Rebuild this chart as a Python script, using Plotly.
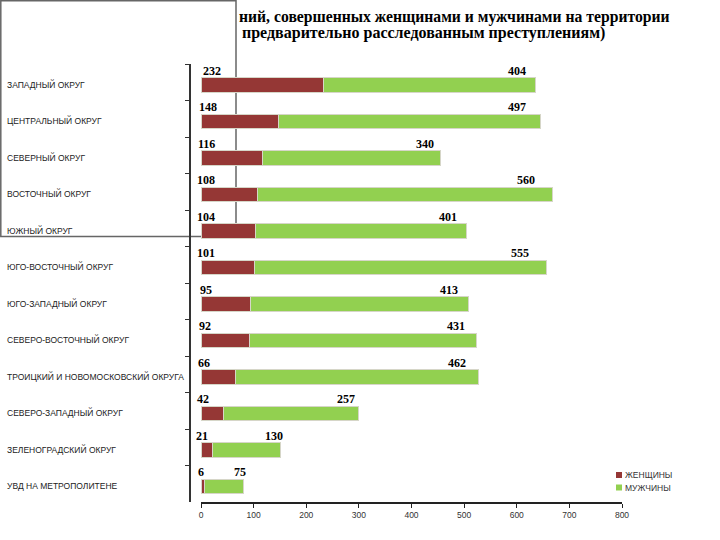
import plotly.graph_objects as go

categories = ["ЗАПАДНЫЙ ОКРУГ", "ЦЕНТРАЛЬНЫЙ ОКРУГ", "СЕВЕРНЫЙ ОКРУГ", "ВОСТОЧНЫЙ ОКРУГ",
              "ЮЖНЫЙ ОКРУГ", "ЮГО-ВОСТОЧНЫЙ ОКРУГ", "ЮГО-ЗАПАДНЫЙ ОКРУГ",
              "СЕВЕРО-ВОСТОЧНЫЙ ОКРУГ", "ТРОИЦКИЙ И НОВОМОСКОВСКИЙ ОКРУГА",
              "СЕВЕРО-ЗАПАДНЫЙ ОКРУГ", "ЗЕЛЕНОГРАДСКИЙ ОКРУГ", "УВД НА МЕТРОПОЛИТЕНЕ"]
women = [232, 148, 116, 108, 104, 101, 95, 92, 66, 42, 21, 6]
men = [404, 497, 340, 560, 401, 555, 413, 431, 462, 257, 130, 75]
series_names = ["ЖЕНЩИНЫ", "МУЖЧИНЫ"]
title_line1 = "ний, совершенных женщинами и мужчинами на территории"
title_line2 = "предварительно расследованным преступлениям)"
x_ticks = [0, 100, 200, 300, 400, 500, 600, 700, 800]

W, H = 720, 540
L, R, T, B = 190, 98, 64, 38
PW, PH = W - L - R, H - T - B


def px(x):
    return (x - L) / PW


def py(y):
    return (H - B - y) / PH


WOMEN_C = "#953735"
MEN_C = "#92D050"
SERIF = "Liberation Serif, Times New Roman, serif"
SANS = "Liberation Sans, Arial, sans-serif"

fig = go.Figure()
for name, vals, col in [(series_names[0], women, WOMEN_C), (series_names[1], men, MEN_C)]:
    fig.add_trace(go.Bar(
        y=categories, x=vals, orientation="h", name=name,
        marker=dict(color=col, line=dict(color="#d6d6c8", width=1)),
        width=0.4, offset=-0.13, showlegend=False, hoverinfo="skip",
    ))

annotations = []
# category labels (left aligned)
for c in categories:
    annotations.append(dict(x=px(5), xref="paper", y=c, yref="y", text=c,
                            xanchor="left", yanchor="middle", yshift=-2, showarrow=False,
                            font=dict(family=SANS, size=8.5, color="#222")))
# value labels
for c, w, m in zip(categories, women, men):
    annotations.append(dict(x=0.09 * w, xref="x", y=c, yref="y", text=str(w),
                            xanchor="center", yanchor="middle", yshift=11.5, showarrow=False,
                            font=dict(family=SERIF, size=12, color="black", weight="bold")))
    annotations.append(dict(x=w + 0.91 * m, xref="x", y=c, yref="y", text=str(m),
                            xanchor="center", yanchor="middle", yshift=11.5, showarrow=False,
                            font=dict(family=SERIF, size=12, color="black", weight="bold")))
# title (visible part)
annotations.append(dict(x=px(237), xref="paper", y=py(17), yref="paper", text=title_line1,
                        xanchor="left", yanchor="middle", showarrow=False,
                        font=dict(family=SERIF, size=15.7, color="black", weight="bold")))
annotations.append(dict(x=px(240), xref="paper", y=py(33), yref="paper", text=title_line2,
                        xanchor="left", yanchor="middle", showarrow=False,
                        font=dict(family=SERIF, size=16, color="black", weight="bold")))
# legend
shapes = []
for i, (name, col) in enumerate(zip(series_names, [WOMEN_C, MEN_C])):
    yc = 475 + 12.5 * i
    shapes.append(dict(type="rect", xref="paper", yref="paper",
                       x0=px(616), x1=px(622), y0=py(yc + 3), y1=py(yc - 3),
                       fillcolor=col, line=dict(width=0)))
    annotations.append(dict(x=px(623), xref="paper", y=py(yc), yref="paper", text=name,
                            xanchor="left", yanchor="middle", showarrow=False,
                            font=dict(family=SANS, size=8.5, color="#333")))
# overlay box
shapes.append(dict(type="rect", xref="paper", yref="paper", layer="below",
                   x0=px(0.8), x1=px(236), y0=py(236.5), y1=py(0.8),
                   fillcolor="white", line=dict(color="#666", width=1.5)))

fig.update_layout(
    width=W, height=H, barmode="stack",
    margin=dict(l=L, r=R, t=T, b=B, pad=0),
    paper_bgcolor="white", plot_bgcolor="rgba(0,0,0,0)",
    xaxis=dict(domain=[px(201), 1], range=[0, 800], tickvals=x_ticks, showgrid=False,
               zeroline=False, showline=True, linecolor="#222", linewidth=1.5,
               ticks="outside", ticklen=4, tickcolor="#222", anchor="y",
               tickfont=dict(family=SANS, size=8.5, color="#333")),
    yaxis=dict(type="category", categoryorder="array", categoryarray=categories,
               range=[11.5, -0.5], anchor="free", position=0, showgrid=False,
               zeroline=False, showline=True, linecolor="#333", linewidth=2,
               ticks="outside", ticklen=4, tickcolor="#333", tickson="boundaries",
               showticklabels=False),
    annotations=annotations, shapes=shapes,
)

fig.write_html("out.html", config={"displayModeBar": False},
               post_script="document.body.style.margin='0';")
